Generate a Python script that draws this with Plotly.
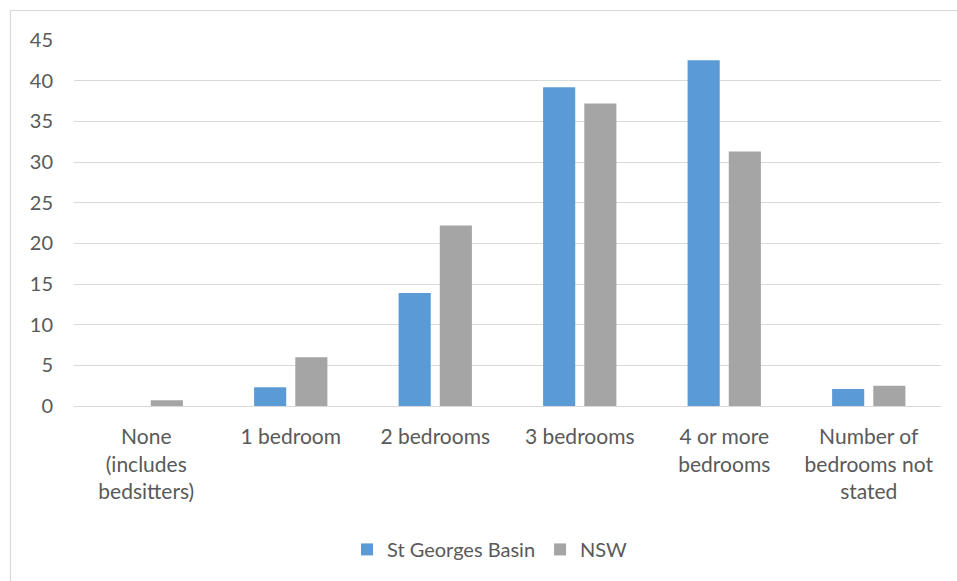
import plotly.graph_objects as go

categories = ["None<br>(includes<br>bedsitters)", "1 bedroom", "2 bedrooms", "3 bedrooms",
              "4 or more<br>bedrooms", "Number of<br>bedrooms not<br>stated"]
st_georges_basin = [0.0, 2.3, 13.9, 39.2, 42.5, 2.1]
nsw = [0.7, 6.0, 22.2, 37.2, 31.3, 2.5]
y_ticks = [0, 5, 10, 15, 20, 25, 30, 35, 40, 45]

FONT = "Lato, 'Open Sans', sans-serif"
TXT = "#595959"
FS = 21

fig = go.Figure()
fig.add_trace(go.Bar(x=categories, y=st_georges_basin, name="St Georges Basin",
                     marker=dict(color="#5B9BD5", line=dict(width=0))))
fig.add_trace(go.Bar(x=categories, y=nsw, name="NSW",
                     marker=dict(color="#A5A5A5", line=dict(width=0))))

W, H = 957, 581
ml, mr, mt, mb = 74, 16, 40, 175.3
pw = W - ml - mr
ph = H - mt - mb

def px(xp):
    return (xp - ml) / pw

def py(yp):
    return (H - mb - yp) / ph

fig.update_layout(
    width=W, height=H,
    margin=dict(l=ml, r=mr, t=mt, b=mb),
    paper_bgcolor="white", plot_bgcolor="white",
    barmode="group", bargap=0.43, bargroupgap=0.22,
    font=dict(family=FONT, size=FS, color=TXT),
    showlegend=True,
    legend=dict(orientation="h", x=px(490), xanchor="center", y=py(549), yanchor="middle",
                font=dict(family=FONT, size=FS - 1, color=TXT), traceorder="normal",
                itemwidth=30),
    xaxis=dict(showgrid=False, showline=True, linecolor="#D9D9D9", linewidth=1,
               ticks="", tickfont=dict(family=FONT, size=FS, color=TXT),
               ticklabelstandoff=12, tickangle=0),
    yaxis=dict(range=[0, 45], tickvals=y_ticks, showgrid=True, gridcolor="#D9D9D9",
               gridwidth=1, zeroline=False, showline=False, ticks="",
               tickfont=dict(family=FONT, size=FS - 1, color=TXT), ticklabelstandoff=20),
    shapes=[dict(type="rect", xref="paper", yref="paper",
                 x0=px(10.5), x1=px(970), y0=py(600), y1=py(10.5),
                 line=dict(color="#D9D9D9", width=1.2), fillcolor="rgba(0,0,0,0)", layer="below")],
)

fig.write_html("out.html")
